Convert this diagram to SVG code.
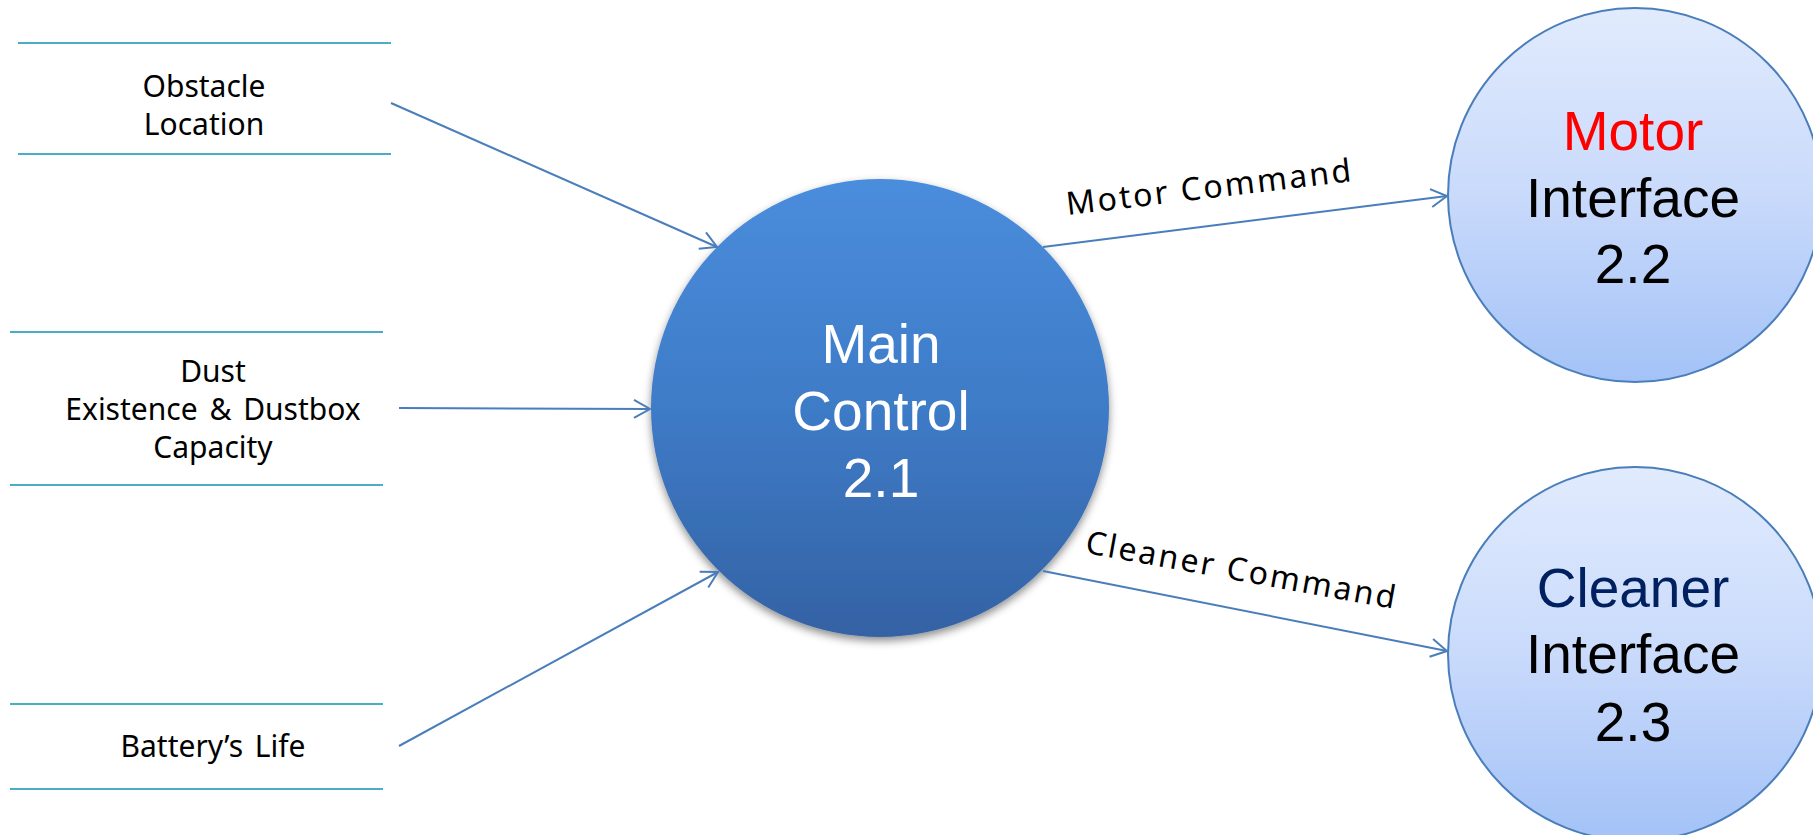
<svg xmlns="http://www.w3.org/2000/svg" width="1813" height="835" viewBox="0 0 1813 835">
  <style>
    .store { stroke: #4bacc6; stroke-width: 2; }
    .flow { stroke: #4a7ebb; stroke-width: 2; fill: none; }
    .lbl { font-family: "Noto Sans", "Open Sans", sans-serif; font-size: 30px; fill: #000; text-anchor: middle; }
    .flbl { font-family: "Noto Sans", "Open Sans", sans-serif; font-size: 32px; fill: #000; text-anchor: middle; letter-spacing: 2.4px; }
    .big { font-family: "Liberation Sans", Arial, sans-serif; font-size: 55px; text-anchor: middle; }
    .proc { stroke: #4a7ebb; stroke-width: 2; }
  </style>
  <defs>
    <linearGradient id="mainFill" x1="0" y1="0" x2="0" y2="1">
      <stop offset="0" stop-color="#4a8ddc"/>
      <stop offset="0.5" stop-color="#3e7bc7"/>
      <stop offset="1" stop-color="#3462a4"/>
    </linearGradient>
    <linearGradient id="ifaceFill" x1="0" y1="0" x2="0" y2="1">
      <stop offset="0" stop-color="#e1ebfd"/>
      <stop offset="0.5" stop-color="#c9dafb"/>
      <stop offset="1" stop-color="#a3c2f7"/>
    </linearGradient>
    <filter id="shadow" x="-20%" y="-20%" width="140%" height="140%">
      <feDropShadow dx="0" dy="4" stdDeviation="4" flood-color="#000" flood-opacity="0.45"/>
    </filter>
    <marker id="open" markerUnits="userSpaceOnUse" viewBox="-18 -11 20 22" refX="0" refY="0" markerWidth="20" markerHeight="22" orient="auto">
      <path d="M-16,-9 L0,0 L-16,9" fill="none" stroke="#4a7ebb" stroke-width="2"/>
    </marker>
  </defs>

  <rect width="1813" height="835" fill="#fff"/>

  <!-- data stores -->
  <g id="store-obstacle">
    <line class="store" x1="18" y1="43" x2="391" y2="43"/>
    <line class="store" x1="18" y1="154" x2="391" y2="154"/>
    <text class="lbl" x="204" y="97">Obstacle</text>
    <text class="lbl" x="204" y="135">Location</text>
  </g>
  <g id="store-dust">
    <line class="store" x1="10" y1="332" x2="383" y2="332"/>
    <line class="store" x1="10" y1="485" x2="383" y2="485"/>
    <text class="lbl" x="213" y="382">Dust</text>
    <text class="lbl" x="213" y="420" word-spacing="4">Existence &amp; Dustbox</text>
    <text class="lbl" x="213" y="458">Capacity</text>
  </g>
  <g id="store-battery">
    <line class="store" x1="10" y1="704" x2="383" y2="704"/>
    <line class="store" x1="10" y1="789" x2="383" y2="789"/>
    <text class="lbl" x="213" y="757" word-spacing="4">Battery’s Life</text>
  </g>

  <!-- processes -->
  <g id="main-control">
    <circle cx="880" cy="408" r="229" fill="url(#mainFill)" filter="url(#shadow)"/>
    <text class="big" x="881" y="363" fill="#fff">Main</text>
    <text class="big" x="881" y="430" fill="#fff">Control</text>
    <text class="big" x="881" y="497" fill="#fff">2.1</text>
  </g>
  <g id="motor-interface">
    <circle class="proc" cx="1635" cy="195" r="187" fill="url(#ifaceFill)"/>
    <text class="big" x="1633" y="150" fill="#ff0000">Motor</text>
    <text class="big" x="1633" y="217" fill="#000">Interface</text>
    <text class="big" x="1633" y="283" fill="#000">2.2</text>
  </g>
  <g id="cleaner-interface">
    <circle class="proc" cx="1635" cy="654" r="187" fill="url(#ifaceFill)"/>
    <text class="big" x="1633" y="607" fill="#002060">Cleaner</text>
    <text class="big" x="1633" y="673" fill="#000">Interface</text>
    <text class="big" x="1633" y="741" fill="#000">2.3</text>
  </g>

  <!-- data flows -->
  <g id="connectors">
    <line class="flow" x1="391" y1="103" x2="717" y2="247" marker-end="url(#open)"/>
    <line class="flow" x1="399" y1="408" x2="650" y2="409" marker-end="url(#open)"/>
    <line class="flow" x1="399" y1="746" x2="718" y2="572" marker-end="url(#open)"/>
    <line class="flow" x1="1043" y1="247" x2="1447" y2="196" marker-end="url(#open)"/>
    <line class="flow" x1="1043" y1="571" x2="1447" y2="651" marker-end="url(#open)"/>
    <text class="flbl" transform="translate(1211,198) rotate(-6.8)">Motor Command</text>
    <text class="flbl" transform="translate(1240,581) rotate(10.3)">Cleaner Command</text>
  </g>
</svg>
